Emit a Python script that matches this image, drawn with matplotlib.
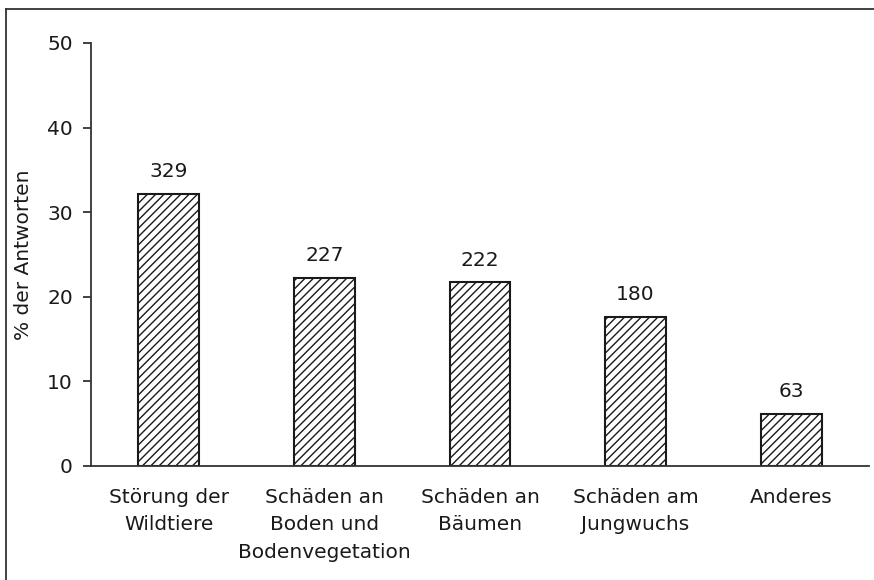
import matplotlib
matplotlib.use("Agg")
import matplotlib.pyplot as plt
from matplotlib.lines import Line2D

# data
categories = ["Störung der\nWildtiere", "Schäden an\nBoden und\nBodenvegetation",
              "Schäden an\nBäumen", "Schäden am\nJungwuchs", "Anderes"]
percent = [32.2, 22.2, 21.7, 17.6, 6.2]
counts = [329, 227, 222, 180, 63]
yticks = [0, 10, 20, 30, 40, 50]

plt.rcParams['font.family'] = ['DejaVu Sans']
plt.rcParams['hatch.linewidth'] = 1.0

fs = 14.5
fig = plt.figure(figsize=(8.74, 5.8), dpi=100)
ax = fig.add_axes([0.1041, 0.1966, 0.8902, 0.7293])

x = range(len(categories))
bars = ax.bar(x, percent, width=0.39, color='white', edgecolor='#1a1a1a',
              linewidth=1.5, hatch='////')

for b, c in zip(bars, counts):
    ax.annotate(str(c), (b.get_x() + b.get_width() / 2, b.get_height()),
                xytext=(0, 12), textcoords='offset points',
                ha='center', va='baseline', fontsize=fs, color='#1a1a1a')

ax.set_xlim(-0.5, 4.5)
ax.set_ylim(0, 50)
ax.set_yticks(yticks)
ax.set_xticks(list(x))
ax.set_xticklabels(categories, fontsize=fs, color='#1a1a1a', linespacing=1.55)
ax.tick_params(axis='x', length=0, pad=16)
ax.tick_params(axis='y', length=6, width=1.3, pad=7, labelsize=fs,
               labelcolor='#1a1a1a', color='#333333')
ax.set_ylabel("% der Antworten", fontsize=fs, color='#1a1a1a', labelpad=10)

for s in ['top', 'right']:
    ax.spines[s].set_visible(False)
for s in ['left', 'bottom']:
    ax.spines[s].set_linewidth(1.3)
    ax.spines[s].set_color('#333333')

# outer frame (only top and left edges visible in the scan)
fig.add_artist(Line2D([0.0069, 1.0], [0.9845, 0.9845], transform=fig.transFigure,
                      color='#333333', linewidth=1.3))
fig.add_artist(Line2D([0.0069, 0.0069], [0.0, 0.9845], transform=fig.transFigure,
                      color='#333333', linewidth=1.3))

fig.savefig("out.png", dpi=100)
